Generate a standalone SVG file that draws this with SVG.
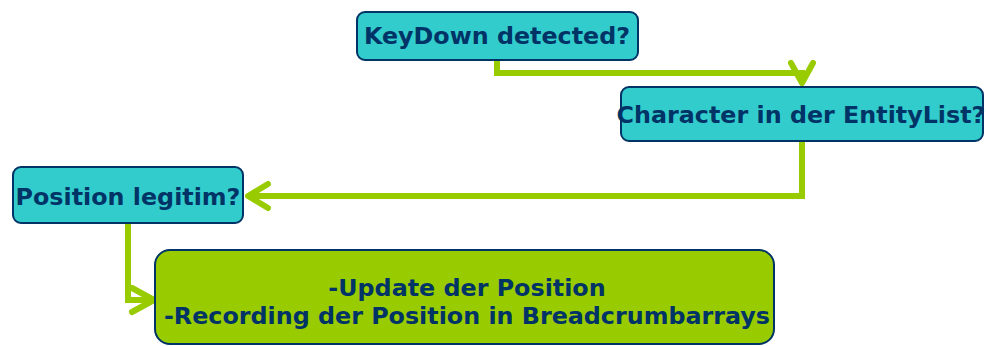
<svg xmlns="http://www.w3.org/2000/svg" width="986" height="346" viewBox="0 0 986 346">
  <style>
    .q rect { fill: #33cccc; stroke: #003366; stroke-width: 2; }
    .act rect { fill: #99cc00; stroke: #003366; stroke-width: 2; }
    text { font-family: "DejaVu Sans", Verdana, sans-serif; font-weight: bold; font-size: 23.8px; fill: #003366; text-anchor: middle; }
    .link { fill: none; stroke: #99cc00; stroke-width: 6; stroke-linejoin: miter; }
    .head { fill: none; stroke: #99cc00; stroke-width: 6; stroke-linecap: round; stroke-linejoin: round; }
  </style>
  <g id="connectors">
    <polyline class="link" points="497,60 497,73 802,73 802,84"/>
    <polyline class="head" points="791,63 802,83 813,63"/>
    <polyline class="link" points="802,141 802,196 247,196"/>
    <polyline class="head" points="268,184 248,196 268,208"/>
    <polyline class="link" points="128,223 128,300 153,300"/>
    <polyline class="head" points="132,288 154,300 132,312"/>
  </g>
  <g id="keydown" class="q">
    <rect x="357" y="12" width="281" height="48" rx="8"/>
    <text x="497" y="44">KeyDown detected?</text>
  </g>
  <g id="entitylist" class="q">
    <rect x="621" y="87" width="362" height="54" rx="8"/>
    <text x="801" y="123">Character in der EntityList?</text>
  </g>
  <g id="legitim" class="q">
    <rect x="13" y="167" width="230" height="56" rx="8"/>
    <text x="128" y="205">Position legitim?</text>
  </g>
  <g id="update" class="act">
    <rect x="155" y="250" width="619" height="94" rx="15"/>
    <text x="467" y="296">-Update der Position</text>
    <text x="467" y="324">-Recording der Position in Breadcrumbarrays</text>
  </g>
</svg>
